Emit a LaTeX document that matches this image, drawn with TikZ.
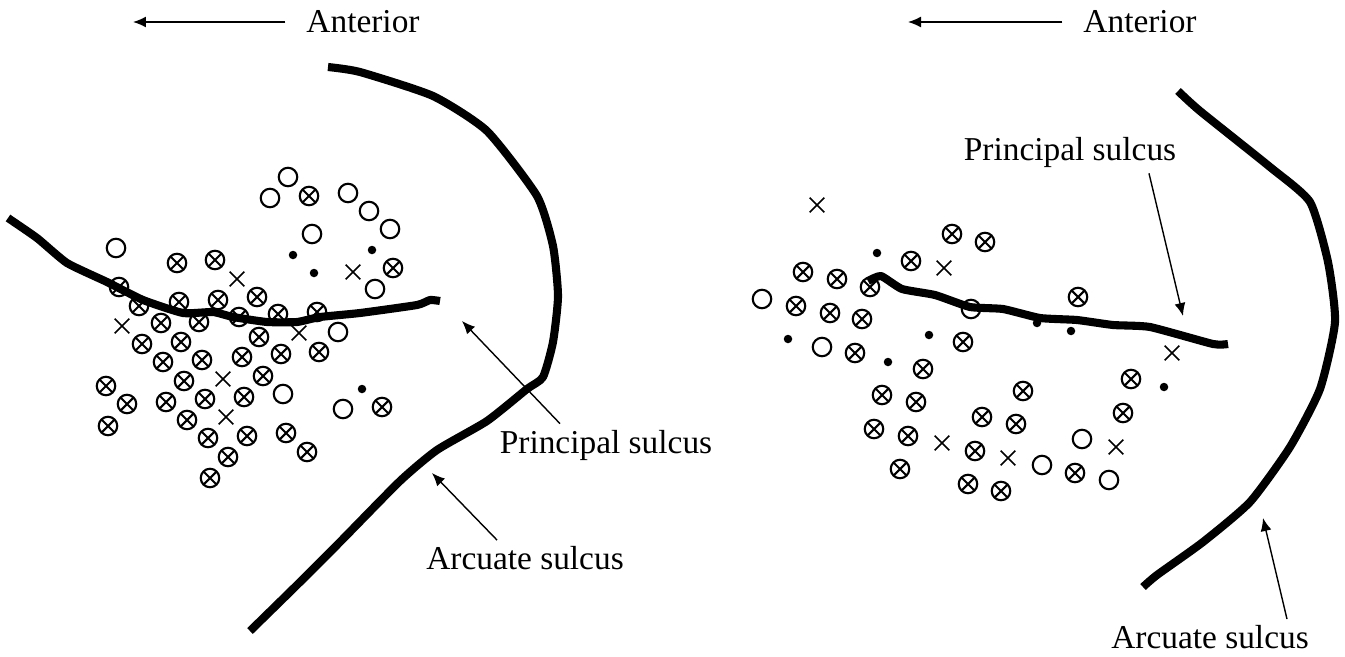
\documentclass[tikz,border=0pt]{standalone}
\usepackage{fontspec}
\setmainfont{Liberation Serif}
\usetikzlibrary{shapes.misc,arrows.meta}

\tikzset{
	openunit/.style={circle,draw,line width=1.2pt,minimum size=0.37cm,inner sep=0pt},
	bothunit/.style={openunit,path picture={\draw[line width=1.2pt] (path picture bounding box.north west) -- (path picture bounding box.south east) (path picture bounding box.north east) -- (path picture bounding box.south west);}},
	weakunit/.style={cross out,draw,line width=0.9pt,minimum size=0.26cm,inner sep=0pt},
	dotunit/.style={circle,fill,minimum size=0.17cm,inner sep=0pt},
	sulcus/.style={line width=4.6pt,line join=round},
	pointer/.style={-{Latex[length=2.6mm,width=2.2mm]},line width=0.8pt},
	lbl/.style={font=\fontsize{19}{22}\selectfont}
}

\begin{document}
\begin{tikzpicture}[x=0.02cm,y=-0.02cm]
	\useasboundingbox (0,0) rectangle (1345,656);

	% Left map: recording sites
	\foreach \x/\y [count=\i] in {288/177,270/198,348/193,369/211,390/229,312/234,375/289,116/248,338/332,283/394,343/409}
		\node[openunit] (lo\i) at (\x,\y) {};
	\foreach \x/\y [count=\i] in {309/196,393/268,177/263,215/260,119/287,139/306,179/302,218/300,257/297,161/323,199/322,239/317,278/314,317/312,259/337,142/344,181/342,163/362,202/360,242/357,281/354,319/352,184/381,263/376,106/386,127/404,166/402,205/399,244/397,382/407,108/426,187/420,208/438,247/436,286/433,307/452,228/457,210/478}
		\node[bothunit] (lb\i) at (\x,\y) {};
	\foreach \x/\y [count=\i] in {237/279,353/272,122/326,299/333,223/379,226/417}
		\node[weakunit] (lw\i) at (\x,\y) {};
	\foreach \x/\y [count=\i] in {293/255,372/250,314/273,362/389}
		\node[dotunit] (ld\i) at (\x,\y) {};

	% Left map: sulci
	\draw[sulcus] plot[smooth,tension=0.3] coordinates {(8,218) (37,238) (67,263) (107,282) (143,300) (183,313) (213,312) (233,317) (267,322) (297,322) (320,317) (360,313) (417,305) (430,300) (440,301)};
	\draw[sulcus] plot[smooth,tension=0.35] coordinates {(328,67) (360,72) (433,96) (487,131) (537,196) (553,246) (558,296) (553,342) (543,377) (527,389) (487,421) (437,450) (400,481) (340,542) (297,585) (250,631)};

	% Left map: labels
	\node[lbl] (antL) at (363,22) {Anterior};
	\coordinate (antLtip) at (133,22);
	\draw[pointer] ([xshift=-0.3cm]antL.west) -- (antLtip);

	\node[lbl] (pslL) at (606,445) {Principal sulcus};
	\coordinate (pslLtip) at (462,321);
	\draw[pointer] ([xshift=-0.92cm]pslL.north) -- (pslLtip);

	\node[lbl] (arcL) at (525,558) {Arcuate sulcus};
	\coordinate (arcLtip) at (432,473);
	\draw[pointer] ([xshift=-0.56cm]arcL.north) -- (arcLtip);

	% Right map: recording sites
	\foreach \x/\y [count=\i] in {762/299,971/309,822/347,1082/439,1042/465,1109/480}
		\node[openunit] (ro\i) at (\x,\y) {};
	\foreach \x/\y [count=\i] in {952/234,985/242,911/261,803/272,837/279,870/287,796/306,830/313,862/319,1078/297,855/353,923/369,963/342,1131/379,882/395,916/402,1023/391,1123/413,982/417,1016/424,874/429,908/436,975/451,1075/473,900/469,968/484,1001/491}
		\node[bothunit] (rb\i) at (\x,\y) {};
	\foreach \x/\y [count=\i] in {817/205,944/268,1172/353,942/443,1116/447,1008/458}
		\node[weakunit] (rw\i) at (\x,\y) {};
	\foreach \x/\y [count=\i] in {877/253,929/335,888/362,788/339,1037/323,1071/331,1164/387}
		\node[dotunit] (rd\i) at (\x,\y) {};

	% Right map: sulci
	\draw[sulcus] plot[smooth,tension=0.3] coordinates {(868,281) (881,276) (902,289) (935,295) (970,307) (1003,309) (1040,318) (1077,320) (1113,325) (1150,327) (1213,344) (1228,344)};
	\draw[sulcus] plot[smooth,tension=0.35] coordinates {(1178,91) (1200,111) (1270,167) (1310,202) (1328,262) (1335,322) (1320,389) (1290,447) (1250,502) (1203,542) (1157,575) (1143,587)};

	% Right map: labels
	\node[lbl] (antR) at (1140,22) {Anterior};
	\coordinate (antRtip) at (908,22);
	\draw[pointer] ([xshift=-0.3cm]antR.west) -- (antRtip);

	\node[lbl] (pslR) at (1070,152) {Principal sulcus};
	\coordinate (pslRtip) at (1183,316);
	\draw[pointer] ([xshift=1.58cm]pslR.south) -- (pslRtip);

	\node[lbl] (arcR) at (1210,637) {Arcuate sulcus};
	\coordinate (arcRtip) at (1263,518);
	\draw[pointer] ([xshift=1.54cm]arcR.north) -- (arcRtip);
\end{tikzpicture}
\end{document}
